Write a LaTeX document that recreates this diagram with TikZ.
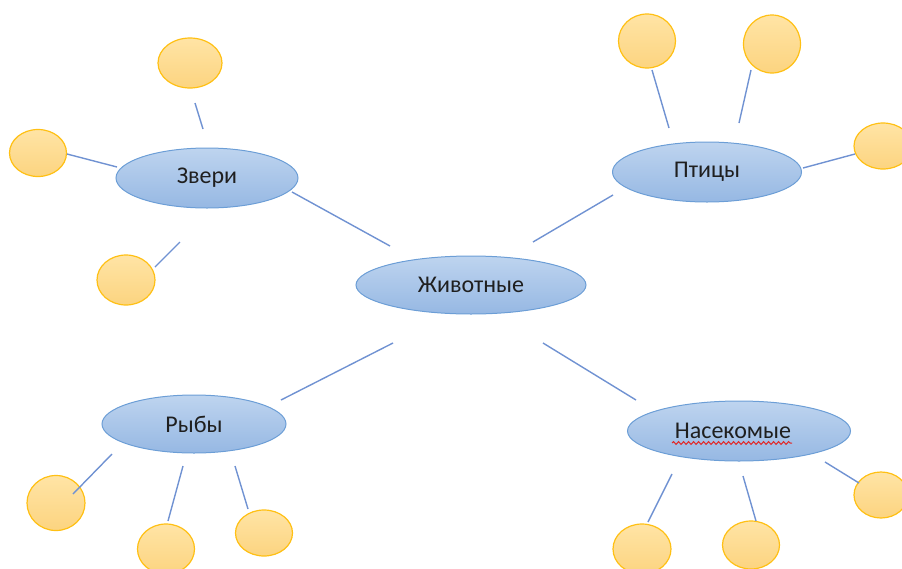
\documentclass[tikz,border=0pt]{standalone}
\usepackage{fontspec}
\setmainfont{Carlito}
\usetikzlibrary{shapes.geometric,decorations.pathmorphing}

\definecolor{ovaltop}{RGB}{190,212,239}
\definecolor{ovalbot}{RGB}{150,184,227}
\definecolor{ovaledge}{RGB}{108,158,214}
\definecolor{dottop}{RGB}{255,228,165}
\definecolor{dotbot}{RGB}{252,212,128}
\definecolor{dotedge}{RGB}{255,192,20}
\definecolor{linkcol}{RGB}{112,146,210}
\definecolor{spellred}{RGB}{225,40,40}

\tikzset{
  oval/.style={ellipse, draw=ovaledge, line width=1pt, top color=ovaltop,
    bottom color=ovalbot, inner sep=0pt, font=\fontsize{24}{28}\selectfont,
    text=black!88},
  dot/.style={ellipse, draw=dotedge, line width=1.2pt, top color=dottop,
    bottom color=dotbot, inner sep=0pt},
  link/.style={draw=linkcol, line width=1.4pt},
  squiggle/.style={draw=spellred, line width=1pt,
    decorate, decoration={snake, amplitude=1.4pt, segment length=5pt}}
}

\begin{document}
\begin{tikzpicture}[x=1pt, y=-1pt]
  \useasboundingbox (0,0) rectangle (902,568);

  % main topic and four groups
  \node[oval, minimum width=230pt, minimum height=58pt] (animals) at (471,285) {Животные};
  \node[oval, minimum width=182pt, minimum height=60pt] (beasts) at (207,178) {Звери};
  \node[oval, minimum width=189pt, minimum height=60pt] (birds) at (707,172) {Птицы};
  \node[oval, minimum width=184pt, minimum height=58pt] (fish) at (194,424) {Рыбы};
  \node[oval, minimum width=223pt, minimum height=60pt] (insects) at (739,431) {\hspace*{-12pt}Насекомые};

  % red wavy spell-check mark under the last label
  \coordinate (sqA) at (672,443);
  \coordinate (sqB) at (792,443);
  \draw[squiggle] (sqA) -- (sqB);

  % empty slots for examples
  \node[dot, minimum width=64pt, minimum height=50pt] (b1) at (190,63) {};
  \node[dot, minimum width=57pt, minimum height=47pt] (b2) at (38,153) {};
  \node[dot, minimum width=58pt, minimum height=50pt] (b3) at (126,280) {};

  \node[dot, minimum width=57pt, minimum height=54pt] (p1) at (647,41) {};
  \node[dot, minimum width=57pt, minimum height=58pt] (p2) at (772,44) {};
  \node[dot, minimum width=58pt, minimum height=46pt] (p3) at (883,146) {};

  \node[dot, minimum width=58pt, minimum height=55pt] (f1) at (56,503) {};
  \node[dot, minimum width=57pt, minimum height=50pt] (f2) at (166,549) {};
  \node[dot, minimum width=57pt, minimum height=46pt] (f3) at (264,533) {};

  \node[dot, minimum width=58pt, minimum height=50pt] (i1) at (642,549) {};
  \node[dot, minimum width=57pt, minimum height=48pt] (i2) at (751,545) {};
  \node[dot, minimum width=54pt, minimum height=46pt] (i3) at (881,495) {};

  % end points of the connecting strokes
  \coordinate (ab1) at (292,192);  \coordinate (ab2) at (390,246);
  \coordinate (ap1) at (613,195);  \coordinate (ap2) at (533,242);
  \coordinate (af1) at (393,343);  \coordinate (af2) at (281,400);
  \coordinate (ai1) at (543,343);  \coordinate (ai2) at (636,400);

  \coordinate (b1a) at (195,103);  \coordinate (b1b) at (203,129);
  \coordinate (b2a) at (67,154);   \coordinate (b2b) at (117,167);
  \coordinate (b3a) at (155,267);  \coordinate (b3b) at (180,242);

  \coordinate (p1a) at (652,70);   \coordinate (p1b) at (669,128);
  \coordinate (p2a) at (751,70);   \coordinate (p2b) at (739,123);
  \coordinate (p3a) at (803,168);  \coordinate (p3b) at (855,154);

  \coordinate (f1a) at (112,454);  \coordinate (f1b) at (73,494);
  \coordinate (f2a) at (183,466);  \coordinate (f2b) at (168,521);
  \coordinate (f3a) at (235,466);  \coordinate (f3b) at (248,509);

  \coordinate (i1a) at (672,474);  \coordinate (i1b) at (648,522);
  \coordinate (i2a) at (743,476);  \coordinate (i2b) at (756,521);
  \coordinate (i3a) at (825,462);  \coordinate (i3b) at (859,483);

  % connecting strokes
  \foreach \s/\e in {ab1/ab2, ap1/ap2, af1/af2, ai1/ai2,
                     b1a/b1b, b2a/b2b, b3a/b3b,
                     p1a/p1b, p2a/p2b, p3a/p3b,
                     f1a/f1b, f2a/f2b, f3a/f3b,
                     i1a/i1b, i2a/i2b, i3a/i3b}
    \draw[link] (\s) -- (\e);
\end{tikzpicture}
\end{document}
